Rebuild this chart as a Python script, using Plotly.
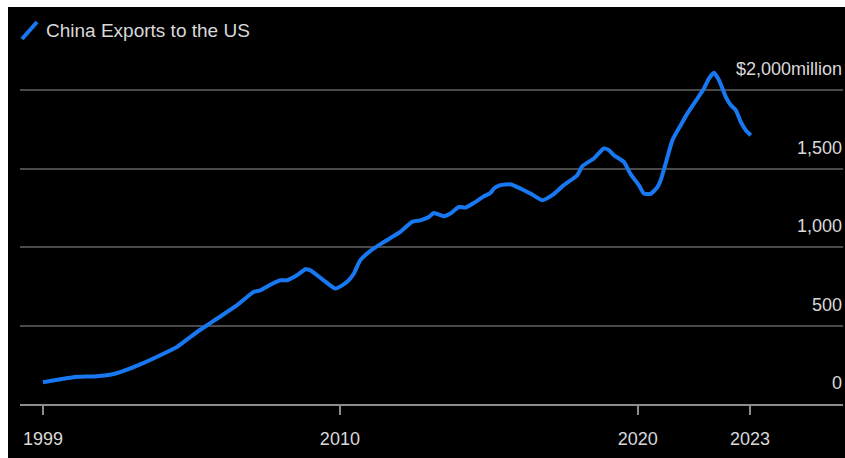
import plotly.graph_objects as go

# China exports to the US (rolling total, $ million) by decimal year
years = [1999.00, 1999.69, 2000.03, 2000.83, 2001.28, 2001.62, 2002.30, 2003.09,
         2003.54, 2004.00, 2004.34, 2004.68, 2004.90, 2005.58, 2006.15, 2006.38,
         2006.72, 2007.06, 2007.28, 2007.62, 2007.91, 2008.08, 2008.53, 2008.93,
         2009.32, 2009.55, 2009.77, 2010.17, 2010.57, 2011.13, 2011.53, 2011.81,
         2012.10, 2012.27, 2012.61, 2012.83, 2013.12, 2013.34, 2013.63, 2013.97,
         2014.19, 2014.31, 2014.53, 2014.87, 2015.10, 2015.33, 2015.55, 2015.95,
         2016.29, 2016.68, 2017.14, 2017.31, 2017.70, 2018.04, 2018.21, 2018.38,
         2018.72, 2018.95, 2019.23, 2019.40, 2019.63, 2019.86, 2019.97, 2020.14,
         2020.37, 2020.65, 2020.88, 2021.22, 2021.44, 2021.61, 2021.78, 2021.95,
         2022.18, 2022.35, 2022.52, 2022.69, 2022.86, 2023.03]
exports = [139, 161, 171, 177, 186, 203, 252, 320,
           362, 426, 473, 515, 543, 628, 713, 724,
           760, 788, 788, 820, 858, 851, 788, 735,
           777, 830, 915, 983, 1032, 1096, 1160, 1170,
           1191, 1217, 1196, 1213, 1255, 1251, 1281, 1323,
           1344, 1373, 1394, 1400, 1382, 1362, 1341, 1298,
           1330, 1394, 1457, 1515, 1564, 1628, 1617, 1585,
           1542, 1464, 1394, 1341, 1339, 1381, 1425, 1532,
           1681, 1776, 1851, 1947, 2010, 2074, 2110, 2063,
           1957, 1904, 1872, 1797, 1744, 1712]

x_tick_vals = [1999.0, 2009.08, 2019.19, 2023.0]
x_tick_text = ["1999", "2010", "2020", "2023"]
y_tick_vals = [0, 500, 1000, 1500, 2000]
y_tick_text = ["0", "500", "1,000", "1,500", "$2,000million"]

BLUE = "#1778f2"
TEXT = "#d9d9d9"
FONT = "Liberation Sans, Arial, sans-serif"

W, H = 845, 458
ML, MR, MT, MB = 20, 2, 50, 54
PW, PH = W - ML - MR, H - MT - MB


def px(x):
    return (x - ML) / PW


def py(y):
    return (H - MB - y) / PH


fig = go.Figure()
fig.add_trace(go.Scatter(
    x=years, y=exports, mode="lines",
    line=dict(color=BLUE, width=4, shape="spline", smoothing=0.5),
    hoverinfo="skip", showlegend=False,
))

# value labels sit just above their gridlines, flush right
y_labels = [
    dict(text=t, xref="paper", yref="y", x=px(844), y=v,
         xanchor="right", yanchor="middle", yshift=21, showarrow=False,
         font=dict(size=18, color=TEXT, family=FONT))
    for v, t in zip(y_tick_vals, y_tick_text)
]

fig.update_layout(
    width=W, height=H,
    margin=dict(l=ML, r=MR, t=MT, b=MB),
    paper_bgcolor="#000000", plot_bgcolor="#000000",
    font=dict(family=FONT, color=TEXT, size=18),
    xaxis=dict(
        type="linear",
        range=[1998.22, 2026.16],
        tickmode="array",
        tickvals=x_tick_vals, ticktext=x_tick_text,
        showgrid=False, zeroline=False,
        showline=True, linecolor="#8c8c8c", linewidth=2,
        ticks="outside", ticklen=9, tickwidth=1.5, tickcolor="#8c8c8c",
        ticklabelstandoff=8,
        tickfont=dict(size=18, color=TEXT),
    ),
    yaxis=dict(
        type="linear",
        range=[0, 2255], side="right",
        tickmode="array", tickvals=y_tick_vals,
        showticklabels=False,
        showgrid=True, gridcolor="#4a4a4a", gridwidth=2,
        zeroline=False, showline=False, ticks="",
    ),
    shapes=[
        # legend key
        dict(type="line", xref="paper", yref="paper",
             x0=px(22), y0=py(39), x1=px(37), y1=py(22),
             line=dict(color=BLUE, width=4)),
        # white edge strips
        dict(type="rect", xref="paper", yref="paper",
             x0=px(0), x1=px(8), y0=py(H), y1=py(0),
             fillcolor="#ffffff", line=dict(width=0)),
        dict(type="rect", xref="paper", yref="paper",
             x0=px(0), x1=px(W), y0=py(7), y1=py(0),
             fillcolor="#ffffff", line=dict(width=0)),
    ],
    annotations=[
        dict(text="China Exports to the US", xref="paper", yref="paper",
             x=px(44), y=py(30), xanchor="left", yanchor="middle",
             showarrow=False, font=dict(size=19, color=TEXT, family=FONT)),
    ] + y_labels,
)

fig.write_html("out.html")
